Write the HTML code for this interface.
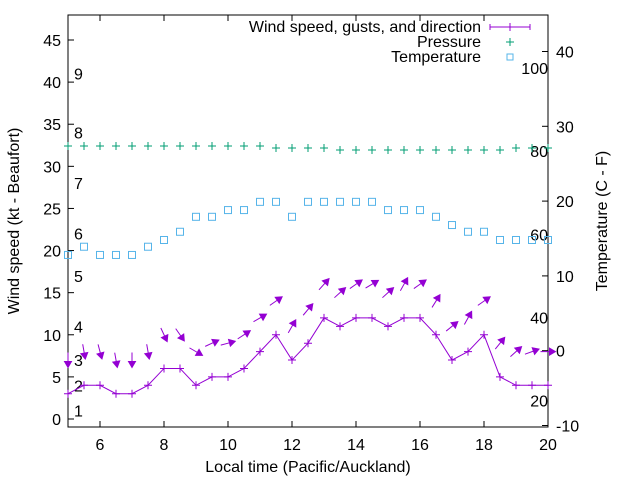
<!DOCTYPE html>
<html><head><meta charset="utf-8"><style>
body{margin:0;background:#fff}
svg{display:block;font-family:"Liberation Sans",sans-serif}
</style></head><body>
<svg id="chart" width="640" height="480" viewBox="0 0 640 480" xmlns="http://www.w3.org/2000/svg">
<g id="axes"></g><g id="marks"></g>
<g font-size="16" fill="#000">
<text x="481" y="32" text-anchor="end">Wind speed, gusts, and direction</text>
<text x="481" y="47" text-anchor="end">Pressure</text>
<text x="481" y="62" text-anchor="end">Temperature</text>
<g stroke="#9400d3" stroke-width="1">
<line x1="490" y1="27" x2="530" y2="27"/><line x1="490" y1="24" x2="490" y2="30"/><line x1="530" y1="24" x2="530" y2="30"/><line x1="510" y1="23" x2="510" y2="31"/></g>
<g stroke="#009e73"><line x1="506" y1="42" x2="514" y2="42"/><line x1="510" y1="38" x2="510" y2="46"/></g>
<rect x="507" y="54" width="6" height="6" fill="none" stroke="#56b4e9"/>
</g>
</svg>
<script>
const times=[5,5.5,6,6.5,7,7.5,8,8.5,9,9.5,10,10.5,11,11.5,12,12.5,13,13.5,14,14.5,15,15.5,16,16.5,17,17.5,18,18.5,19,19.5,20];
const windSpeed=[3,4,4,3,3,4,6,6,4,5,5,6,8,10,7,9,12,11,12,12,11,12,12,10,7,8,10,5,4,4,4];
const gustSpeed=[7,8,8,7,7,8,10,10,8,9,9,10,12,14,11,13,16,15,16,16,15,16,16,14,11,12,14,9,8,8,8];
const windFrom=[0,350,345,350,0,350,335,325,300,245,255,237,240,235,210,220,222,228,235,239,228,209,235,212,231,209,235,219,228,250,270];
const pressure=[1020,1020,1020,1020,1020,1020,1020,1020,1020,1020,1020,1020,1020,1019.5,1019.5,1019.5,1019.5,1019,1019,1019,1019,1019,1019,1019,1019,1019,1019,1019,1019.5,1019.5,1019.5];
const tempC=[12.8,13.9,12.8,12.8,12.8,13.9,14.8,15.9,17.9,17.9,18.8,18.8,19.9,19.9,17.9,19.9,19.9,19.9,19.9,19.9,18.8,18.8,18.8,17.9,16.8,15.9,15.9,14.8,14.8,14.8,14.8];
const xTicks=[6,8,10,12,14,16,18,20];
const yTicks=[0,5,10,15,20,25,30,35,40,45];
const y2Ticks=[-10,0,10,20,30,40];
const fTicks=[20,40,60,80,100];
const beaufortLabels=["1","2","3","4","5","6","7","8","9"];
const beaufortKt=[1,4,7,11,17,22,28,34,41];

const L=68,R=548,T=15,B=427;
const X=t=>L+(t-5)*(R-L)/15;
const Y=v=>419-(v)*379/45;
const Y2=c=>350.7-c*7.48;
const YP=p=>146+(1020-p)*4;
const NS="http://www.w3.org/2000/svg";
function mk(tag,attrs,parent){const e=document.createElementNS(NS,tag);for(const k in attrs)e.setAttribute(k,attrs[k]);parent.appendChild(e);return e;}
const ax=document.getElementById('axes'),mg=document.getElementById('marks');
const FS=16;

let fr=mk('rect',{x:L,y:T,width:R-L,height:B-T,fill:'none',stroke:'#000','stroke-width':1},ax);


xTicks.forEach(t=>{
 let g=mk('g',{},ax);
 
 
 mk('line',{x1:X(t),y1:B,x2:X(t),y2:B-6,stroke:'#000'},g);
 mk('line',{x1:X(t),y1:T,x2:X(t),y2:T+6,stroke:'#000'},g);
 let tx=mk('text',{x:X(t),y:450,'text-anchor':'middle','font-size':FS},g);tx.textContent=t;
});
yTicks.forEach(v=>{
 let g=mk('g',{},ax);
 
 
 mk('line',{x1:L,y1:Y(v),x2:L+6,y2:Y(v),stroke:'#000'},g);
 let tx=mk('text',{x:61,y:Y(v)+6,'text-anchor':'end','font-size':FS},g);tx.textContent=v;
});
y2Ticks.forEach(v=>{
 let g=mk('g',{},ax);
 
 
 mk('line',{x1:R,y1:Y2(v),x2:R-6,y2:Y2(v),stroke:'#000'},g);
 let tx=mk('text',{x:556,y:Y2(v)+6,'text-anchor':'start','font-size':FS},g);tx.textContent=v;
});
fTicks.forEach(f=>{
 let tx=mk('text',{x:548,y:Y2((f-32)*5/9)+6,'text-anchor':'end','font-size':FS},ax);
 
 
 tx.textContent=f;
});
beaufortLabels.forEach((b,i)=>{
 let tx=mk('text',{x:74,y:Y(beaufortKt[i])+6,'font-size':FS},ax);
 
 
 tx.textContent=b;
});
let yl=mk('text',{x:0,y:0,transform:'translate(19,221) rotate(-90)','text-anchor':'middle','font-size':FS},ax);


yl.textContent='Wind speed (kt - Beaufort)';
let y2l=mk('text',{x:0,y:0,transform:'translate(607,221) rotate(-90)','text-anchor':'middle','font-size':FS},ax);


y2l.textContent='Temperature (C - F)';
let xl=mk('text',{x:308,y:472,'text-anchor':'middle','font-size':FS},ax);


xl.textContent='Local time (Pacific/Auckland)';

times.forEach((t,i)=>{
 let p=mk('path',{d:`M${X(t)-4},${YP(pressure[i])}h8M${X(t)},${YP(pressure[i])-4}v8`,stroke:'#009e73','stroke-width':1},mg);
 
 
});
times.forEach((t,i)=>{
 let r=mk('rect',{x:X(t)-3.5,y:Y2(tempC[i])-3.5,width:7,height:7,fill:'none',stroke:'#56b4e9','stroke-width':1},mg);
 
 
});
let pl=mk('polyline',{points:times.map((t,i)=>X(t)+','+Y(windSpeed[i])).join(' '),fill:'none',stroke:'#9400d3','stroke-width':1},mg);


times.forEach((t,i)=>{
 let p=mk('path',{d:`M${X(t)-4},${Y(windSpeed[i])}h8M${X(t)},${Y(windSpeed[i])-4}v8`,stroke:'#9400d3','stroke-width':1},mg);
 
 
});
times.forEach((t,i)=>{
 const b=(windFrom[i]+180)*Math.PI/180;
 const dx=Math.sin(b),dy=-Math.cos(b);
 const cx=X(t),cy=Y(gustSpeed[i]),h=7.5;
 const x1=cx-dx*h,y1=cy-dy*h,x2=cx+dx*h,y2=cy+dy*h;
 const px=-dy,py=dx,hl=6,hw=3.5;
 const bx=x2-dx*hl,by=y2-dy*hl;
 let g=mk('g',{},mg);
 
 
 mk('line',{x1:x1,y1:y1,x2:bx,y2:by,stroke:'#9400d3','stroke-width':1},g);
 mk('polygon',{points:`${x2},${y2} ${bx+px*hw},${by+py*hw} ${bx-px*hw},${by-py*hw}`,fill:'#9400d3',stroke:'#9400d3','stroke-width':1},g);
});
</script>
</body></html>
